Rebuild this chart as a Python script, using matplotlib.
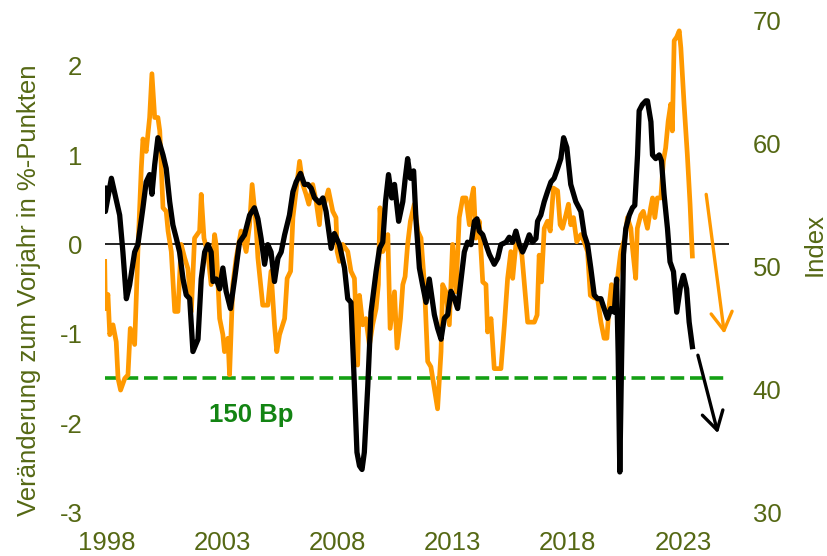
import matplotlib
matplotlib.use("Agg")
import matplotlib.pyplot as plt

# ---------------- data ----------------
# Orange series: change vs. previous year, in %-points (left axis)
orange_t = [1997.90, 1997.93, 1998.04, 1998.12, 1998.26, 1998.40, 1998.48, 1998.59, 1998.77, 1998.91,
            1999.01, 1999.20, 1999.34, 1999.49, 1999.56, 1999.70, 1999.85, 1999.95, 2000.07, 2000.21,
            2000.29, 2000.43, 2000.57, 2000.65, 2000.79, 2000.94, 2001.08, 2001.22, 2001.37, 2001.51,
            2001.66, 2001.80, 2002.02, 2002.09, 2002.21, 2002.38, 2002.52, 2002.67, 2002.74, 2002.89,
            2003.03, 2003.10, 2003.25, 2003.32, 2003.46, 2003.61, 2003.82, 2004.04, 2004.19, 2004.30,
            2004.47, 2004.55, 2004.76, 2004.98, 2005.12, 2005.27, 2005.37, 2005.49, 2005.71, 2005.82,
            2005.97, 2006.07, 2006.21, 2006.36, 2006.50, 2006.64, 2006.76, 2006.93, 2007.08, 2007.22,
            2007.29, 2007.44, 2007.61, 2007.80, 2007.94, 2007.99, 2008.09, 2008.23, 2008.45, 2008.59,
            2008.74, 2008.81, 2008.88, 2008.96, 2009.10, 2009.24, 2009.39, 2009.53, 2009.68, 2009.78,
            2009.85, 2009.97, 2010.09, 2010.19, 2010.29, 2010.48, 2010.59, 2010.74, 2010.84, 2010.94,
            2011.05, 2011.17, 2011.34, 2011.49, 2011.63, 2011.78, 2011.92, 2012.06, 2012.14, 2012.35,
            2012.50, 2012.57, 2012.71, 2012.86, 2013.00, 2013.15, 2013.29, 2013.44, 2013.58, 2013.73,
            2013.80, 2013.91, 2014.01, 2014.16, 2014.31, 2014.45, 2014.52, 2014.67, 2014.81, 2015.10,
            2015.25, 2015.39, 2015.53, 2015.61, 2015.75, 2015.90, 2016.01, 2016.26, 2016.55, 2016.67,
            2016.76, 2016.86, 2016.98, 2017.12, 2017.24, 2017.38, 2017.56, 2017.67, 2017.77, 2017.92,
            2018.03, 2018.13, 2018.25, 2018.39, 2018.57, 2018.71, 2018.86, 2018.98, 2019.15, 2019.29,
            2019.44, 2019.58, 2019.70, 2019.80, 2019.90, 2020.02, 2020.16, 2020.30, 2020.48, 2020.59,
            2020.74, 2020.81, 2020.95, 2021.02, 2021.17, 2021.28, 2021.46, 2021.60, 2021.68, 2021.78,
            2021.89, 2022.04, 2022.15, 2022.25, 2022.36, 2022.47, 2022.54, 2022.62, 2022.73, 2022.84,
            2022.91, 2023.05, 2023.19, 2023.31, 2023.41]
orange_v = [-0.19, -0.72, -0.56, -1.01, -0.90, -1.09, -1.50, -1.63, -1.50, -1.46,
            -0.94, -1.12, -0.08, 0.86, 1.18, 1.04, 1.42, 1.91, 1.42, 1.42,
            1.27, 0.41, 0.37, 0.15, -0.08, -0.75, -0.75, 0.00, -0.15, -0.27,
            -0.75, 0.07, 0.15, 0.56, 0.07, -0.11, -0.45, 0.11, -0.01, -0.83,
            -1.01, -1.20, -1.05, -1.46, -0.45, -0.15, 0.15, -0.08, 0.22, 0.67,
            0.22, -0.15, -0.68, -0.68, -0.30, -0.90, -1.20, -1.01, -0.83, -0.38,
            -0.30, 0.30, 0.60, 0.93, 0.67, 0.56, 0.45, 0.67, 0.48, 0.22,
            0.48, 0.45, 0.61, 0.37, 0.30, -0.08, -0.19, 0.00, -0.08, -0.30,
            -0.38, -0.83, -1.35, -0.57, -0.90, -0.83, -1.13, -0.90, -0.72, -0.45,
            0.41, -0.08, 0.00, 0.11, -0.94, -0.53, -1.16, -0.83, -0.45, -0.36,
            0.00, 0.26, 0.45, 0.15, 0.07, -0.45, -1.31, -1.37, -1.50, -1.84,
            -1.20, -0.45, -0.53, -0.90, 0.00, -0.53, 0.30, 0.52, 0.52, 0.22,
            0.48, 0.63, 0.07, 0.26, -0.42, -0.45, -0.98, -0.83, -1.39, -1.39,
            -0.90, -0.38, -0.08, -0.38, 0.00, 0.00, -0.12, -0.87, -0.87, -0.79,
            -0.12, -0.42, 0.18, 0.26, 0.15, 0.63, 0.60, 0.22, 0.18, 0.33,
            0.45, 0.22, 0.30, 0.03, 0.11, 0.03, -0.08, -0.57, -0.60, -0.60,
            -0.87, -1.05, -1.05, -0.68, -0.45, -0.75, -0.38, -0.08, 0.07, 0.30,
            0.18, -0.04, -0.38, 0.18, 0.33, 0.37, 0.18, 0.41, 0.52, 0.30,
            0.52, 0.52, 0.93, 1.08, 1.38, 1.57, 1.27, 2.28, 2.32, 2.39,
            2.20, 1.57, 1.01, 0.45, -0.13]

# Black series: Index (right axis)
black_t = [1997.90, 1997.93, 1998.19, 1998.55, 1998.69, 1998.84, 1998.98, 1999.20, 1999.34, 1999.56,
           1999.70, 1999.85, 1999.95, 2000.07, 2000.21, 2000.43, 2000.57, 2000.72, 2000.86, 2001.01,
           2001.15, 2001.30, 2001.44, 2001.59, 2001.73, 2001.95, 2002.09, 2002.24, 2002.38, 2002.52,
           2002.60, 2002.74, 2002.89, 2003.03, 2003.17, 2003.36, 2003.54, 2003.75, 2003.97, 2004.19,
           2004.40, 2004.55, 2004.69, 2004.84, 2004.98, 2005.12, 2005.27, 2005.42, 2005.56, 2005.71,
           2005.92, 2006.07, 2006.21, 2006.40, 2006.57, 2006.72, 2006.86, 2007.01, 2007.22, 2007.37,
           2007.51, 2007.73, 2007.87, 2008.09, 2008.31, 2008.45, 2008.59, 2008.74, 2008.85, 2008.96,
           2009.07, 2009.17, 2009.32, 2009.46, 2009.68, 2009.83, 2009.97, 2010.09, 2010.22, 2010.36,
           2010.48, 2010.66, 2010.84, 2010.94, 2011.05, 2011.17, 2011.31, 2011.41, 2011.56, 2011.70,
           2011.85, 2011.99, 2012.21, 2012.35, 2012.50, 2012.64, 2012.79, 2012.93, 2013.08, 2013.22,
           2013.36, 2013.51, 2013.65, 2013.80, 2013.95, 2014.06, 2014.16, 2014.31, 2014.45, 2014.60,
           2014.81, 2014.96, 2015.10, 2015.32, 2015.46, 2015.61, 2015.75, 2015.90, 2016.04, 2016.18,
           2016.33, 2016.47, 2016.62, 2016.69, 2016.83, 2016.98, 2017.12, 2017.27, 2017.41, 2017.56,
           2017.70, 2017.82, 2017.96, 2018.13, 2018.35, 2018.57, 2018.72, 2018.86, 2019.00, 2019.15,
           2019.29, 2019.44, 2019.58, 2019.73, 2019.87, 2020.02, 2020.12, 2020.19, 2020.26, 2020.34,
           2020.42, 2020.52, 2020.67, 2020.81, 2020.91, 2021.03, 2021.10, 2021.24, 2021.39, 2021.46,
           2021.61, 2021.68, 2021.82, 2021.97, 2022.07, 2022.18, 2022.33, 2022.44, 2022.59, 2022.73,
           2022.90, 2023.02, 2023.16, 2023.27, 2023.41]
black_v = [56.4, 54.5, 57.2, 54.2, 51.2, 47.4, 48.5, 51.2, 51.8, 54.8,
           56.9, 57.5, 55.9, 58.3, 60.5, 59.1, 58.0, 55.3, 53.4, 52.3,
           51.2, 49.0, 47.7, 47.4, 43.1, 44.1, 49.0, 51.2, 51.8, 51.2,
           48.8, 49.0, 48.2, 49.9, 48.0, 46.6, 49.0, 52.0, 52.6, 54.2,
           54.8, 53.9, 52.3, 50.2, 51.8, 51.2, 48.8, 50.7, 51.2, 52.6,
           54.2, 56.1, 56.9, 57.6, 56.7, 56.7, 56.4, 55.6, 55.2, 55.6,
           54.5, 51.5, 52.7, 51.8, 49.9, 47.4, 47.1, 40.3, 34.9, 33.8,
           33.5, 34.9, 40.3, 46.3, 49.6, 51.5, 52.0, 55.3, 57.5, 55.6,
           56.7, 53.7, 55.3, 57.1, 58.8, 57.2, 57.8, 53.9, 49.9, 48.5,
           47.1, 49.0, 46.1, 45.0, 44.1, 45.8, 46.1, 48.0, 47.4, 46.6,
           48.8, 51.2, 52.0, 51.8, 53.7, 53.9, 52.9, 52.6, 51.8, 51.0,
           50.2, 50.7, 51.8, 52.0, 52.4, 52.0, 52.9, 51.8, 51.2, 51.8,
           52.6, 52.0, 52.3, 53.7, 54.2, 55.3, 56.1, 56.9, 57.2, 58.0,
           58.8, 60.5, 59.7, 56.7, 55.3, 54.5, 52.6, 51.8, 49.9, 47.7,
           47.4, 47.4, 46.6, 45.8, 46.6, 46.3, 49.0, 42.8, 33.3, 42.8,
           51.0, 53.1, 54.2, 54.8, 55.0, 59.1, 62.7, 63.2, 63.5, 63.5,
           61.8, 59.1, 58.8, 59.1, 58.6, 55.9, 53.1, 50.4, 49.6, 46.3,
           48.5, 49.3, 48.2, 45.5, 43.5]

# Forecast arrows (start -> end)
black_arrow_t = [2023.65, 2024.52]
black_arrow_v = [42.8, 36.45]
orange_arrow_t = [2024.01, 2024.80]
orange_arrow_v = [0.56, -1.00]

threshold = -1.5
threshold_label = "150 Bp"
x_ticks = [1998, 2003, 2008, 2013, 2018, 2023]
left_ticks = [-3, -2, -1, 0, 1, 2]
right_ticks = [30, 40, 50, 60, 70]

# ---------------- style ----------------
plt.rcParams['font.family'] = ['Liberation Sans', 'DejaVu Sans']
OLIVE = '#556814'
ORANGE = '#FF9900'
GREEN = '#14A014'
GREEN_TXT = '#138413'
FS = 18.5

W, H = 828, 556
left_px, right_px, top_px, bottom_px = 104.7, 729.0, 21.0, 512.5

fig = plt.figure(figsize=(W / 100, H / 100), dpi=100)
ax = fig.add_axes([left_px / W, (H - bottom_px) / H, (right_px - left_px) / W, (bottom_px - top_px) / H])
ax2 = ax.twinx()

ax.set_xlim(1997.9, 2025.0)
ax.set_ylim(-3, 2.5)
ax2.set_ylim(30, 70)

ax.axhline(0, color='black', lw=1.2, zorder=1)
ax.axhline(threshold, color=GREEN, lw=2.6, ls=(0, (3.8, 1.6)), zorder=1.5)

ax.plot(orange_t, orange_v, color=ORANGE, lw=3.4, solid_joinstyle='round', zorder=2)
ax.annotate('', xy=(orange_arrow_t[1], orange_arrow_v[1]), xytext=(orange_arrow_t[0], orange_arrow_v[0]),
            arrowprops=dict(arrowstyle='->,head_length=0.65,head_width=0.38', color=ORANGE, lw=2.4,
                            shrinkA=0, shrinkB=0, mutation_scale=20), zorder=2)

ax.set_zorder(ax2.get_zorder() - 1)
ax.patch.set_visible(False)
ax2.plot(black_t, black_v, color='black', lw=3.8, solid_joinstyle='round', zorder=3)
ax2.annotate('', xy=(black_arrow_t[1], black_arrow_v[1]), xytext=(black_arrow_t[0], black_arrow_v[0]),
             arrowprops=dict(arrowstyle='->,head_length=0.65,head_width=0.38', color='black', lw=2.4,
                             shrinkA=0, shrinkB=0, mutation_scale=20), zorder=3)

ax.text(2004.25, -1.91, threshold_label, color=GREEN_TXT, fontsize=FS, fontweight='bold',
        ha='center', va='center')

for a in (ax, ax2):
    for s in a.spines.values():
        s.set_visible(False)

ax.set_xticks(x_ticks)
ax.set_xticklabels([str(t) for t in x_ticks])
ax.set_yticks(left_ticks)
ax.set_yticklabels([str(t) for t in left_ticks])
ax2.set_yticks(right_ticks)
ax2.set_yticklabels([str(t) for t in right_ticks])

ax.tick_params(axis='x', length=0, pad=13, labelsize=FS, labelcolor=OLIVE)
ax.tick_params(axis='y', length=0, pad=16, labelsize=FS, labelcolor=OLIVE)
ax2.tick_params(axis='y', length=0, pad=17, labelsize=FS, labelcolor=OLIVE)

fig.text(29 / W, 1 - 290 / H, 'Veränderung zum Vorjahr in %-Punkten', rotation=90,
         ha='center', va='center', fontsize=FS, color=OLIVE)
fig.text(815 / W, 1 - 245 / H, 'Index', rotation=90,
         ha='center', va='center', fontsize=FS, color=OLIVE)

fig.savefig('out.png', dpi=100)
